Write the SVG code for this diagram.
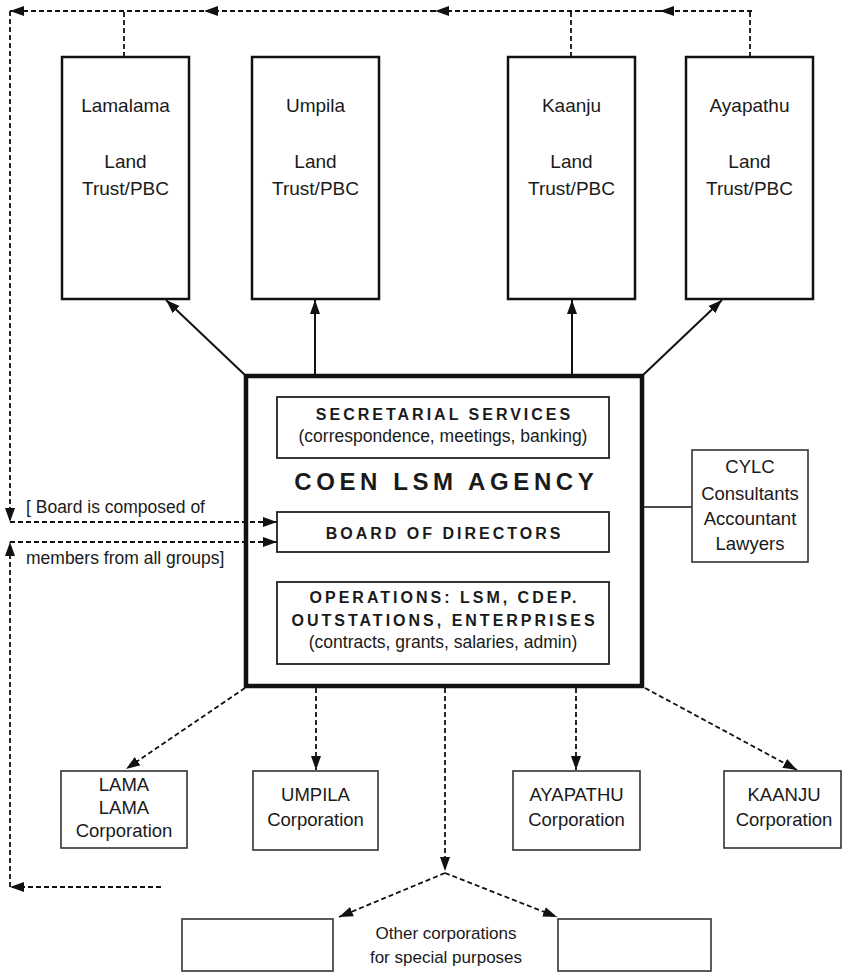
<svg xmlns="http://www.w3.org/2000/svg" width="843" height="974" viewBox="0 0 843 974">
<defs>
<marker id="ah" markerUnits="userSpaceOnUse" markerWidth="15" markerHeight="11" refX="14" refY="5.5" orient="auto">
<path d="M0,0.5 L14,5.5 L0,10.5 z" fill="#111"/>
</marker>
<style>
.t{font-family:"Liberation Sans",Arial,Helvetica,sans-serif;fill:#1a1a1a;text-anchor:middle}
.top{font-size:19px}
.reg{font-size:17.5px}
.corp{font-size:18.5px}
.b16{font-size:16px;font-weight:bold;letter-spacing:3px}
.big{font-size:24px;font-weight:bold;letter-spacing:4.6px}
.lft{text-anchor:start}
.box{fill:#fff;stroke:#111;stroke-width:2.5}
.inbox{fill:none;stroke:#222;stroke-width:1.8}
.thin{fill:#fff;stroke:#333;stroke-width:1.6}
.sol{fill:none;stroke:#111;stroke-width:2}
.dash{fill:none;stroke:#111;stroke-width:1.8;stroke-dasharray:5 3}
</style>
</defs>
<rect width="843" height="974" fill="#fff"/>

<g id="connectors">
<path class="dash" d="M752,11 H660" marker-end="url(#ah)"/>
<path class="dash" d="M660,11 H435" marker-end="url(#ah)"/>
<path class="dash" d="M435,11 H204" marker-end="url(#ah)"/>
<path class="dash" d="M204,11 H10" marker-end="url(#ah)"/>
<path class="dash" d="M124,57 V11"/>
<path class="dash" d="M571,57 V11"/>
<path class="dash" d="M750,57 V11"/>
<path class="dash" d="M10,11 V522" marker-end="url(#ah)"/>
<path class="dash" d="M10,887 V542" marker-end="url(#ah)"/>
<path class="dash" d="M10,522 H277" marker-end="url(#ah)"/>
<path class="dash" d="M10,542 H277" marker-end="url(#ah)"/>
<path class="dash" d="M161,887 H10" marker-end="url(#ah)"/>
<path class="sol" d="M246,376 L166,300" marker-end="url(#ah)"/>
<path class="sol" d="M315,374 V300" marker-end="url(#ah)"/>
<path class="sol" d="M572,374 V300" marker-end="url(#ah)"/>
<path class="sol" d="M642,376 L722,300" marker-end="url(#ah)"/>
<path class="sol" d="M644,507 H692" style="stroke-width:1.3"/>
<path class="dash" d="M245,688 L126,769" marker-end="url(#ah)"/>
<path class="dash" d="M316,688 V770" marker-end="url(#ah)"/>
<path class="dash" d="M445,688 V871" marker-end="url(#ah)"/>
<path class="dash" d="M576,688 V770" marker-end="url(#ah)"/>
<path class="dash" d="M645,688 L797,770" marker-end="url(#ah)"/>
<path class="dash" d="M445,873 L339,917" marker-end="url(#ah)"/>
<path class="dash" d="M445,873 L557,917" marker-end="url(#ah)"/>
</g>

<g id="lamalama">
<rect class="box" x="62" y="57" width="127" height="242"/>
<text class="t top" x="125.5" y="112">Lamalama</text>
<text class="t top" x="125.5" y="168">Land</text>
<text class="t top" x="125.5" y="195">Trust/PBC</text>
</g>
<g id="umpila">
<rect class="box" x="252" y="57" width="127" height="242"/>
<text class="t top" x="315.5" y="112">Umpila</text>
<text class="t top" x="315.5" y="168">Land</text>
<text class="t top" x="315.5" y="195">Trust/PBC</text>
</g>
<g id="kaanju">
<rect class="box" x="508" y="57" width="127" height="242"/>
<text class="t top" x="571.5" y="112">Kaanju</text>
<text class="t top" x="571.5" y="168">Land</text>
<text class="t top" x="571.5" y="195">Trust/PBC</text>
</g>
<g id="ayapathu">
<rect class="box" x="686" y="57" width="127" height="242"/>
<text class="t top" x="749.5" y="112">Ayapathu</text>
<text class="t top" x="749.5" y="168">Land</text>
<text class="t top" x="749.5" y="195">Trust/PBC</text>
</g>

<g id="agency">
<rect x="246" y="376" width="396" height="310" fill="none" stroke="#111" stroke-width="4.5"/>
<text class="t big" x="446.3" y="490">COEN LSM AGENCY</text>
</g>
<g id="secretarial">
<rect class="inbox" x="277" y="397" width="332" height="61"/>
<text class="t b16" x="444.5" y="420">SECRETARIAL SERVICES</text>
<text class="t reg" x="443" y="442">(correspondence, meetings, banking)</text>
</g>
<g id="board">
<rect class="inbox" x="277" y="512" width="332" height="40"/>
<text class="t b16" x="444.5" y="539">BOARD OF DIRECTORS</text>
</g>
<g id="operations">
<rect class="inbox" x="277" y="582" width="332" height="82"/>
<text class="t b16" x="444.5" y="603">OPERATIONS: LSM, CDEP.</text>
<text class="t b16" x="444.5" y="626">OUTSTATIONS, ENTERPRISES</text>
<text class="t reg" x="443" y="648">(contracts, grants, salaries, admin)</text>
</g>

<g id="board-note">
<text class="t reg lft" x="26" y="513">[ Board is composed of</text>
<text class="t reg lft" x="26" y="564">members from all groups]</text>
</g>

<g id="cylc">
<rect class="thin" x="692" y="450" width="116" height="112"/>
<text class="t corp" x="750" y="473">CYLC</text>
<text class="t corp" x="750" y="500">Consultants</text>
<text class="t corp" x="750" y="525">Accountant</text>
<text class="t corp" x="750" y="550">Lawyers</text>
</g>

<g id="lama-corp">
<rect class="thin" x="61" y="771" width="126" height="77"/>
<text class="t corp" x="124" y="791">LAMA</text>
<text class="t corp" x="124" y="814">LAMA</text>
<text class="t corp" x="124" y="837">Corporation</text>
</g>
<g id="umpila-corp">
<rect class="thin" x="253" y="771" width="125" height="79"/>
<text class="t corp" x="315.5" y="801">UMPILA</text>
<text class="t corp" x="315.5" y="826">Corporation</text>
</g>
<g id="ayapathu-corp">
<rect class="thin" x="513" y="771" width="127" height="79"/>
<text class="t corp" x="576.5" y="801">AYAPATHU</text>
<text class="t corp" x="576.5" y="826">Corporation</text>
</g>
<g id="kaanju-corp">
<rect class="thin" x="724" y="771" width="117" height="77"/>
<text class="t corp" x="784" y="801">KAANJU</text>
<text class="t corp" x="784" y="826">Corporation</text>
</g>

<g id="other-left">
<rect class="thin" x="182" y="919" width="151" height="52"/>
</g>
<g id="other-right">
<rect class="thin" x="558" y="919" width="153" height="52"/>
</g>
<g id="other-label">
<text class="t" style="font-size:17px" x="446" y="939">Other corporations</text>
<text class="t" style="font-size:17px" x="446" y="963">for special purposes</text>
</g>
</svg>
